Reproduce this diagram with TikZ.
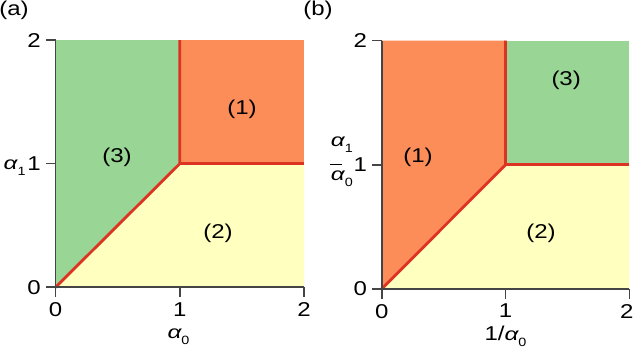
\documentclass[tikz,border=0pt]{standalone}
\usepackage{fontspec}
\setmainfont{Liberation Sans}
\usepackage{graphicx}
\definecolor{regGreen}{HTML}{99D594}
\definecolor{regOrange}{HTML}{FC8D59}
\definecolor{regYellow}{HTML}{FFFFBF}
\definecolor{bdRed}{HTML}{DD3322}
\definecolor{axGray}{HTML}{454545}
\newcommand\stx[1]{\scalebox{1.2}[1]{#1}}
\newcommand\alp[1]{\scalebox{1.35}[1]{\fontsize{18}{18}\selectfont\itshape α}\raisebox{-6pt}{\scalebox{1.2}[1]{\fontsize{12}{12}\selectfont #1}}}
\begin{document}
\begin{tikzpicture}[x=1pt,y=1pt,
  ax/.style={draw=axGray, line width=1.6pt},
  bd/.style={draw=bdRed, line width=2.8pt},
  ticklab/.style={font=\fontsize{20}{20}\selectfont, inner sep=0pt},
  reglab/.style={font=\fontsize{20}{20}\selectfont, inner sep=0pt},
  panlab/.style={font=\fontsize{20}{20}\selectfont, inner sep=0pt}]
\useasboundingbox (0,0) rectangle (634,348);
\node[panlab] (pa) at (14,338) {\stx{(a)}};
\node[panlab] (pb) at (318,338) {\stx{(b)}};
% ---------------- panel (a)
\begin{scope}[shift={(55.5,60.7)}, x=124.3pt, y=123.6pt]
  \fill[regGreen] (0,0)--(1,1)--(1,2)--(0,2)--cycle;
  \fill[regOrange] (1,1)--(1,2)--(2,2)--(2,1)--cycle;
  \fill[regYellow] (0,0)--(2,0)--(2,1)--(1,1)--cycle;
  \draw[bd] (0,0)--(1,1)--(1,2);
  \draw[bd] (1,1)--(2,1);
  \draw[ax] (0,2)--(0,0)--(2,0);
  \foreach \k in {0,1,2} {
    \draw[ax] (0,\k)--++(-10pt,0);
    \draw[ax] (\k,0)--++(0,-10pt);
    \node[ticklab, anchor=east] (ayl\k) at ([xshift=-14.5pt]0,\k) {\stx{\k}};
    \node[ticklab, anchor=north] (axl\k) at ([yshift=-15pt]\k,0) {\stx{\k}};
  }
  \node[reglab] (ra1) at (1.50,1.44) {\stx{(1)}};
  \node[reglab] (ra3) at (0.495,1.054) {\stx{(3)}};
  \node[reglab] (ra2) at (1.307,0.44) {\stx{(2)}};
  \node[anchor=base, inner sep=0pt] (atx) at ([yshift=-51pt]0.99,0) {\alp{0}};
  \node[anchor=base west, inner sep=0pt] (aty) at ([xshift=-52pt,yshift=-6pt]0,1) {\alp{1}};
\end{scope}
% ---------------- panel (b)
\begin{scope}[shift={(381.7,59)}, x=123.8pt, y=124.2pt]
  \fill[regOrange] (0,0)--(1,1)--(1,2)--(0,2)--cycle;
  \fill[regGreen] (1,1)--(1,2)--(2,2)--(2,1)--cycle;
  \fill[regYellow] (0,0)--(2,0)--(2,1)--(1,1)--cycle;
  \draw[bd] (0,0)--(1,1)--(1,2);
  \draw[bd] (1,1)--(2,1);
  \draw[ax] (0,2)--(0,0)--(2,0);
  \foreach \k in {0,1,2} {
    \draw[ax] (0,\k)--++(-10pt,0);
    \draw[ax] (\k,0)--++(0,-10pt);
    \node[ticklab, anchor=east] (byl\k) at ([xshift=-14.5pt]0,\k) {\stx{\k}};
  }
  \node[ticklab, anchor=north] (bxl0) at ([yshift=-15pt]0,0) {\stx{0}};
  \node[ticklab, anchor=north] (bxl1) at ([yshift=-15pt]1,0) {\stx{1}};
  \node[ticklab, anchor=north] (bxl2) at ([yshift=-15pt,xshift=-2.5pt]2,0) {\stx{2}};
  \node[reglab] (rb1) at (0.293,1.063) {\stx{(1)}};
  \node[reglab] (rb3) at (1.49,1.68) {\stx{(3)}};
  \node[reglab] (rb2) at (1.287,0.45) {\stx{(2)}};
  \node[anchor=base, inner sep=0pt] (btx) at ([yshift=-51pt]1.0,0) {\stx{\fontsize{20}{20}\selectfont 1/}\alp{0}};
  \node[anchor=base west, inner sep=0pt] (bnum) at ([xshift=-51pt,yshift=18pt]0,1) {\alp{1}};
  \node[anchor=base west, inner sep=0pt] (bden) at ([xshift=-51pt,yshift=-16pt]0,1) {\alp{0}};
  \coordinate (barL) at ([xshift=-52pt,yshift=0pt]0,1);
  \coordinate (barR) at ([xshift=-40pt,yshift=0pt]0,1);
  \draw[line width=1.2pt, black] (barL) -- (barR);
\end{scope}
\end{tikzpicture}
\end{document}
